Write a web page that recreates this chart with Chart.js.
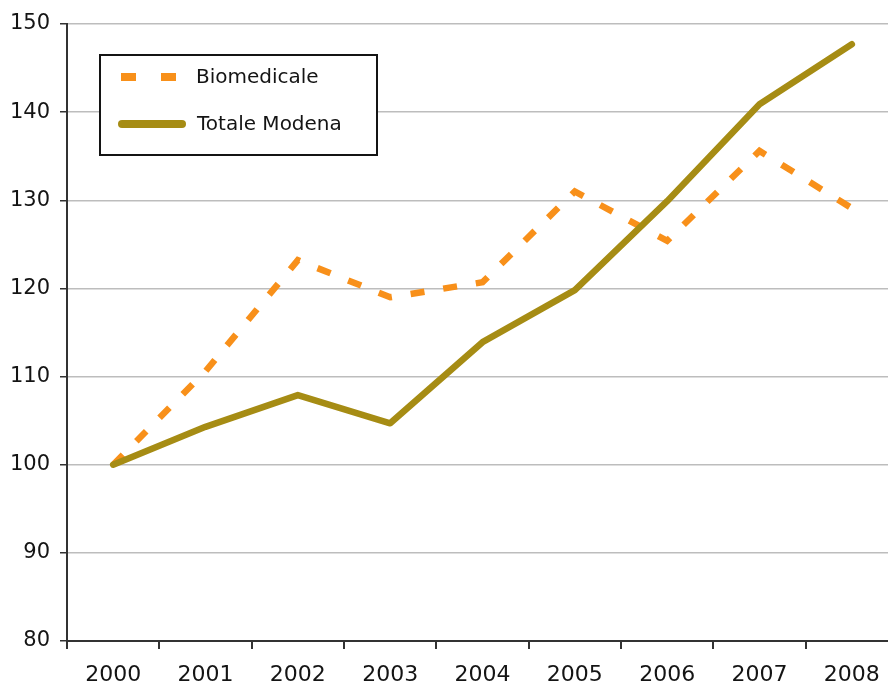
<!DOCTYPE html>
<html lang="it">
<head>
  <meta charset="UTF-8">
  <title>Biomedicale vs Totale Modena</title>
  <style>
    html, body {
      margin: 0;
      padding: 0;
      background: #fff;
      overflow: hidden;
    }
    #wrap {
      position: relative;
      width: 900px;
      height: 685px;
    }
  </style>
</head>
<body>
  <div id="wrap">
    <canvas id="chart"></canvas>
  </div>

  <script src="https://cdn.jsdelivr.net/npm/chart.js"></script>
  <script>
    // anni e indici (2000 = 100)
    const years = ['2000', '2001', '2002', '2003', '2004', '2005', '2006', '2007', '2008'];
    const biomedicale = [100, 110.6, 123.2, 119, 120.7, 131, 125.4, 135.6, 129.1];
    const totaleModena = [100, 104.3, 107.9, 104.7, 113.9, 119.8, 129.9, 140.9, 147.7];
    const yTicks = [80, 90, 100, 110, 120, 130, 140, 150];

    const ORANGE = '#F8901A';
    const OLIVE = '#A68C14';
    const INK = '#141414';
    const FONT = '"DejaVu Sans", Verdana, sans-serif';

    // legenda riquadrata in alto a sinistra
    const boxLegend = {
      id: 'boxLegend',
      afterDraw(chart) {
        const { ctx, chartArea } = chart;
        const x = chartArea.left + 33;
        const y = chartArea.top + 31;
        const w = 277, h = 100;
        ctx.save();
        ctx.fillStyle = '#fff';
        ctx.fillRect(x, y, w, h);
        ctx.strokeStyle = INK;
        ctx.lineWidth = 2;
        ctx.strokeRect(x, y, w, h);

        // Biomedicale: trattini
        ctx.strokeStyle = ORANGE;
        ctx.lineWidth = 8;
        ctx.lineCap = 'butt';
        ctx.setLineDash([15, 25]);
        ctx.beginPath();
        ctx.moveTo(x + 21, y + 22);
        ctx.lineTo(x + 76, y + 22);
        ctx.stroke();

        // Totale Modena: linea continua
        ctx.setLineDash([]);
        ctx.strokeStyle = OLIVE;
        ctx.lineCap = 'round';
        ctx.beginPath();
        ctx.moveTo(x + 22, y + 69);
        ctx.lineTo(x + 82, y + 69);
        ctx.stroke();

        ctx.fillStyle = INK;
        ctx.font = '20px ' + FONT;
        ctx.textBaseline = 'middle';
        ctx.fillText(chart.data.datasets[0].label, x + 96, y + 23);
        ctx.fillText(chart.data.datasets[1].label, x + 97, y + 70);
        ctx.restore();
      }
    };

    new Chart(document.getElementById('chart'), {
      type: 'line',
      data: {
        labels: years,
        datasets: [
          {
            label: 'Biomedicale',
            data: biomedicale,
            borderColor: ORANGE,
            borderWidth: 6.5,
            borderDash: [14, 19],
            borderCapStyle: 'butt',
            pointRadius: 0,
            tension: 0,
            fill: false,
            order: 2
          },
          {
            label: 'Totale Modena',
            data: totaleModena,
            borderColor: OLIVE,
            borderWidth: 6.5,
            borderCapStyle: 'round',
            borderJoinStyle: 'round',
            pointRadius: 0,
            tension: 0,
            fill: false,
            order: 1
          }
        ]
      },
      options: {
        responsive: true,
        maintainAspectRatio: false,
        animation: false,
        layout: { padding: { top: 24, right: 2, left: 0, bottom: 0 } },
        plugins: {
          legend: { display: false },
          tooltip: { enabled: false }
        },
        scales: {
          x: {
            offset: true,
            grid: {
              offset: true,
              drawOnChartArea: false,
              color: '#333',
              lineWidth: 2,
              tickLength: 8
            },
            border: { color: '#333', width: 2 },
            ticks: {
              color: INK,
              padding: 13,
              font: { family: FONT, size: 22 }
            },
            afterFit(scale) { scale.height = 44; }
          },
          y: {
            min: 80,
            max: 150,
            afterBuildTicks(scale) {
              scale.ticks = yTicks.map(v => ({ value: v }));
            },
            grid: {
              color: '#bdbdbd',
              lineWidth: 1.5,
              tickColor: '#333',
              tickLength: 7
            },
            border: { color: '#333', width: 2 },
            ticks: {
              color: INK,
              padding: 10,
              font: { family: FONT, size: 21 }
            },
            afterFit(scale) { scale.width = 67; }
          }
        }
      },
      plugins: [boxLegend]
    });
  </script>
</body>
</html>
